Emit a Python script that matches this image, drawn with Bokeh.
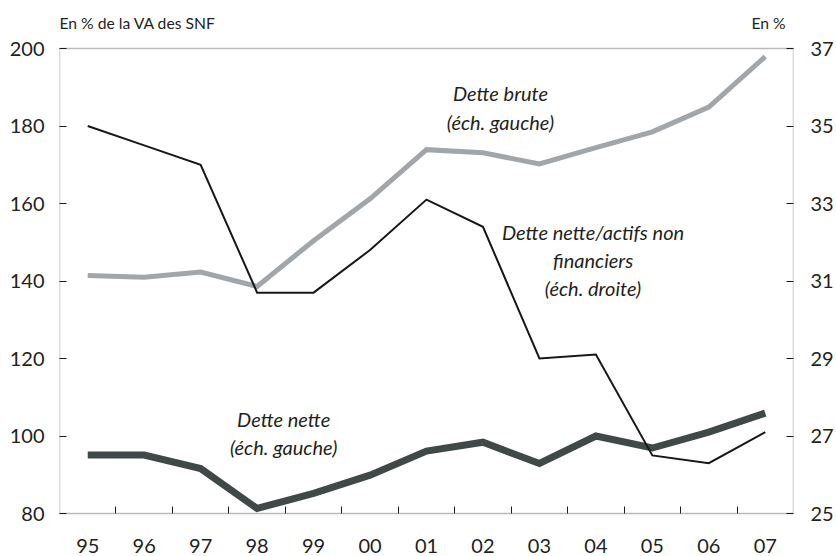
from bokeh.plotting import figure
from bokeh.models import Range1d, LinearAxis, FixedTicker, Label, BoxAnnotation
from bokeh.embed import file_html
from bokeh.resources import INLINE

years = ["95", "96", "97", "98", "99", "00", "01", "02", "03", "04", "05", "06", "07"]
dette_brute = [141.4, 141.0, 142.3, 138.6, 150.4, 161.2, 173.9, 173.1, 170.2, 174.4, 178.5, 184.9, 197.9]
dette_nette = [95.1, 95.1, 91.6, 81.3, 85.2, 89.9, 96.1, 98.4, 92.9, 100.0, 96.9, 101.0, 105.9]
ratio_actifs = [35.0, 34.5, 34.0, 30.7, 30.7, 31.8, 33.1, 32.4, 29.0, 29.1, 26.5, 26.3, 27.1]
left_ticks = [80, 100, 120, 140, 160, 180, 200]
right_ticks = [25, 27, 29, 31, 33, 35, 37]
left_lim = (80, 200)
right_lim = (25, 37)

W, H = 836, 556
FRAME_L, FRAME_R = 59, 796
PLOT_TOP, PLOT_BOT = 48, 513  # pixel rows of 200 and 80

xs = list(range(len(years)))
FONT = "Lato"
TXT = "#231F20"
LINE = "#1A1A1A"

# extend the ranges so the frame covers the whole height (header + year labels live inside it)
ppu_l = (PLOT_BOT - PLOT_TOP) / (left_lim[1] - left_lim[0])
ppu_r = (PLOT_BOT - PLOT_TOP) / (right_lim[1] - right_lim[0])
y_left = Range1d(left_lim[0] - (H - PLOT_BOT) / ppu_l, left_lim[1] + PLOT_TOP / ppu_l)
y_right = Range1d(right_lim[0] - (H - PLOT_BOT) / ppu_r, right_lim[1] + PLOT_TOP / ppu_r)

p = figure(width=W, height=H, output_backend="svg", toolbar_location=None,
           x_range=Range1d(-0.5, len(years) - 0.5), y_range=y_left,
           min_border_left=FRAME_L, min_border_right=W - FRAME_R, min_border_top=0, min_border_bottom=0,
           background_fill_color="white", border_fill_color="white")
p.title.visible = False
p.extra_y_ranges = {"right": y_right}
p.xgrid.visible = False
p.ygrid.visible = False
p.outline_line_color = None

def style_axis(ax):
    ax.axis_line_color = None
    ax.major_tick_line_color = LINE
    ax.major_tick_line_width = 1
    ax.minor_tick_line_color = LINE
    ax.minor_tick_line_width = 1
    ax.major_label_text_font = FONT
    ax.major_label_text_font_size = "20px"
    ax.major_label_text_color = TXT

xa = p.xaxis[0]
style_axis(xa)
xa.fixed_location = left_lim[0]
xa.ticker = FixedTicker(ticks=xs, minor_ticks=[i + 0.5 for i in range(len(years) - 1)])
xa.major_label_overrides = {i: y for i, y in enumerate(years)}
xa.major_tick_in = 0
xa.major_tick_out = 0
xa.minor_tick_in = 7
xa.minor_tick_out = 0
xa.major_label_standoff = 25

ya = p.yaxis[0]
style_axis(ya)
ya.ticker = FixedTicker(ticks=left_ticks)
ya.major_tick_in = 7
ya.major_tick_out = 0
ya.minor_tick_line_color = None
ya.major_label_standoff = 15

ra = LinearAxis(y_range_name="right")
style_axis(ra)
ra.ticker = FixedTicker(ticks=right_ticks)
ra.major_tick_in = 7
ra.major_tick_out = 0
ra.minor_tick_line_color = None
ra.major_label_standoff = 17
p.add_layout(ra, "right")

# chart box
p.add_layout(BoxAnnotation(left=-0.5, right=len(years) - 0.5, bottom=left_lim[0], top=left_lim[1],
                           fill_color=None, line_color=LINE, line_width=1.5, level="underlay"))

p.line(xs, dette_brute, line_color="#A1A6AA", line_width=5, line_join="miter")
p.line(xs, dette_nette, line_color="#404848", line_width=7, line_join="miter")
p.line(xs, ratio_actifs, line_color="#1A1617", line_width=2, line_join="miter", y_range_name="right")

def note(x, y, text):
    p.add_layout(Label(x=x, y=y, text=text, text_font=FONT, text_font_style="italic",
                       text_font_size="20px", text_color=TXT, text_align="center",
                       text_baseline="middle"))

note(7.31, 188.4, "Dette brute")
note(7.31, 181.0, "(éch. gauche)")
note(8.95, 152.6, "Dette nette/actifs non")
note(8.95, 145.3, "financiers")
note(8.95, 138.2, "(éch. droite)")
note(3.47, 104.3, "Dette nette")
note(3.47, 97.2, "(éch. gauche)")

p.add_layout(Label(x=-0.5, y=206.6, text="En % de la VA des SNF",
                   text_font=FONT, text_font_size="15.7px", text_color=TXT,
                   text_align="left", text_baseline="middle"))
p.add_layout(Label(x=12.36, y=206.6, text="En %",
                   text_font=FONT, text_font_size="15.7px", text_color=TXT,
                   text_align="right", text_baseline="middle"))

open("out.html", "w").write(file_html(p, INLINE))
